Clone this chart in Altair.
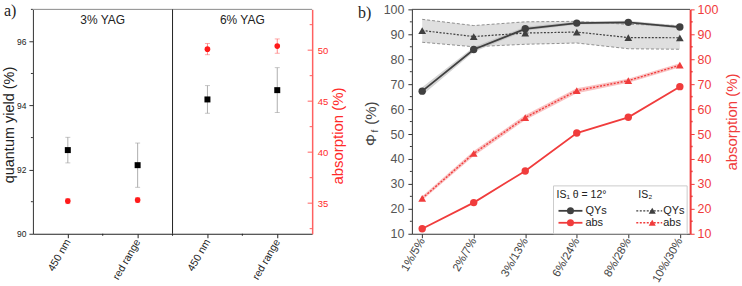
import json
import altair as alt
import pandas as pd

# ---------------- panel a: YAG samples ----------------
a_pos = [0.5, 1.5, 2.5, 3.5]
a_names = ["450 nm", "red range", "450 nm", "red range"]
a_qy = [92.61, 92.14, 94.19, 94.48]
a_qy_err = [0.40, 0.69, 0.43, 0.70]
a_abs = [35.2, 35.3, 50.1, 50.4]
a_abs_err = [0.25, 0.25, 0.55, 0.70]
a_groups = ["3% YAG", "6% YAG"]
a_group_pos = [1, 3]
a_divider = [2]
a_minor_x = [1, 2, 3]
a_qy_ticks = [90, 92, 94, 96]
a_qy_minor = [91, 93, 95, 97]
a_abs_ticks = [35, 40, 45, 50]
a_abs_minor = [32.5, 37.5, 42.5, 47.5, 52.5]

# ---------------- panel b: concentration series ----------------
b_labels = ["1%/5%", "2%/7%", "3%/13%", "6%/24%", "8%/28%", "10%/30%"]
b_idx = list(range(len(b_labels)))
is1_qy = [67.2, 83.9, 92.2, 94.5, 94.8, 92.9]
is1_abs = [12.0, 22.5, 35.2, 50.4, 56.7, 69.0]
is2_qy = [91.5, 89.1, 90.5, 90.9, 88.7, 88.6]
is2_abs = [24.2, 42.2, 56.6, 67.4, 71.4, 77.6]
is2_qy_lo = [86.8, 85.0, 86.0, 86.5, 84.2, 84.0]
is2_qy_hi = [96.0, 93.5, 95.0, 95.2, 94.0, 93.5]
is1_qy_spread = [1.6, 1.0, 0.8, 0.6, 0.6, 0.6]
is2_abs_spread = [0.8, 1.0, 1.0, 1.0, 0.8, 0.8]
b_ticks = list(range(10, 101, 10))
b_minor = list(range(15, 100, 10))

AW, AH = 280, 225
BW, BH = 279, 225
FONT = "Liberation Sans"
SERIF = "Liberation Serif"
RED_A = "#ff1a1a"
RED_B = "#f03c3c"
DARK = "#404040"

one = pd.DataFrame({"k": [0]})


def text_at(txt, x, y, size, color="#222222", angle=0, align="center",
            baseline="middle", font=FONT):
    return alt.Chart(one).mark_text(
        text=txt, fontSize=size, color=color, angle=angle, align=align,
        baseline=baseline, font=font
    ).encode(x=alt.value(x), y=alt.value(y))


def seg(x1, x2, y1, y2, color, width=1.0, dash=None):
    props = dict(color=color, strokeWidth=width)
    if dash:
        props["strokeDash"] = dash
    return alt.Chart(one).mark_rule(**props).encode(
        x=alt.value(x1), x2=alt.value(x2), y=alt.value(y1), y2=alt.value(y2))


def sym(x, y, shape, color, size):
    return alt.Chart(one).mark_point(
        shape=shape, filled=True, size=size, color=color, opacity=1
    ).encode(x=alt.value(x), y=alt.value(y))


def anchor(x, y):
    # invisible corner box that fixes the overall page extent
    return alt.Chart(one).mark_rect(opacity=0).encode(
        x=alt.value(x), x2=alt.value(x + 1), y=alt.value(y), y2=alt.value(y + 1))


# ======================= panel a =======================
df_a = pd.DataFrame({
    "pos": a_pos, "qy": a_qy, "ab": a_abs,
    "qy_lo": [v - e for v, e in zip(a_qy, a_qy_err)],
    "qy_hi": [v + e for v, e in zip(a_qy, a_qy_err)],
    "ab_lo": [v - e for v, e in zip(a_abs, a_abs_err)],
    "ab_hi": [v + e for v, e in zip(a_abs, a_abs_err)],
})

xa_scale = alt.Scale(domain=[0, 4], nice=False, zero=False)
xa_axis = alt.Axis(
    values=a_pos, labelExpr=json.dumps(a_names) + "[floor(datum.value)]",
    labelAngle=-60, title=None, grid=False, tickSize=4, tickColor="#222222",
    domainColor="#222222", labelColor="#222222", labelFontSize=10.5, labelPadding=2)


def XA(field):
    return alt.X(field, type="quantitative", scale=xa_scale, axis=xa_axis)


yq_scale = alt.Scale(domain=[90, 97], nice=False, zero=False)
yq_axis = alt.Axis(values=a_qy_ticks, title=None, grid=False, tickSize=4,
                   labelFontSize=8.5, labelPadding=3, tickColor="#333333",
                   domainColor="#333333", labelColor="#222222")


def YQ(field):
    return alt.Y(field, type="quantitative", scale=yq_scale, axis=yq_axis)


ya_scale = alt.Scale(domain=[32, 54], nice=False, zero=False)
ya_axis = alt.Axis(orient="right", values=a_abs_ticks, ticks=False, title=None,
                   grid=False, labelFontSize=9.5, labelPadding=5,
                   labelColor="#ff2a2a", domainColor="#ff6060", domainWidth=1.5)


def YA(field):
    return alt.Y(field, type="quantitative", scale=ya_scale, axis=ya_axis)


base_a = alt.Chart(df_a)
left_a = alt.layer(
    base_a.mark_rule(color="#9a9a9a", strokeWidth=0.8).encode(
        x=XA("pos"), y=YQ("qy_lo"), y2="qy_hi"),
    base_a.mark_tick(orient="horizontal", size=5, thickness=0.8, color="#9a9a9a").encode(
        x=XA("pos"), y=YQ("qy_lo")),
    base_a.mark_tick(orient="horizontal", size=5, thickness=0.8, color="#9a9a9a").encode(
        x=XA("pos"), y=YQ("qy_hi")),
    base_a.mark_square(size=36, color="black", opacity=1).encode(
        x=XA("pos"), y=YQ("qy")),
    alt.Chart(pd.DataFrame({"v": a_qy_minor})).mark_rule(color="#333333").encode(
        y=YQ("v"), x=alt.value(-2), x2=alt.value(0)),
)

right_a = alt.layer(
    base_a.mark_rule(color="#ff6a6a", strokeWidth=0.8).encode(
        x=XA("pos"), y=YA("ab_lo"), y2="ab_hi"),
    base_a.mark_tick(orient="horizontal", size=5, thickness=0.8, color="#ff6a6a").encode(
        x=XA("pos"), y=YA("ab_lo")),
    base_a.mark_tick(orient="horizontal", size=5, thickness=0.8, color="#ff6a6a").encode(
        x=XA("pos"), y=YA("ab_hi")),
    base_a.mark_circle(size=32, color=RED_A, opacity=1).encode(
        x=XA("pos"), y=YA("ab")),
    alt.Chart(pd.DataFrame({"v": a_abs_ticks})).mark_rule(color="#ff6060").encode(
        y=YA("v"), x=alt.value(AW - 4.5), x2=alt.value(AW)),
    alt.Chart(pd.DataFrame({"v": a_abs_minor})).mark_rule(color="#ff6060").encode(
        y=YA("v"), x=alt.value(AW - 2.5), x2=alt.value(AW)),
)

deco_a = alt.layer(
    seg(0, AW, 0, 0, "#8a8a8a"),
    alt.Chart(pd.DataFrame({"pos": a_divider})).mark_rule(color="#222222").encode(
        x=XA("pos"), y=alt.value(0), y2=alt.value(AH)),
    alt.Chart(pd.DataFrame({"pos": a_minor_x})).mark_rule(color="#222222").encode(
        x=XA("pos"), y=alt.value(AH), y2=alt.value(AH + 2)),
    alt.Chart(pd.DataFrame({"g": a_groups, "pos": a_group_pos})).mark_text(
        fontSize=12, font=FONT, color="#222222").encode(
        x=XA("pos"), y=alt.value(10.5), text="g:N"),
    text_at("quantum yield (%)", -23, 116, 14.5, angle=270),
    text_at("absorption (%)", 306, 127, 15, color="#ff2a2a", angle=270),
    text_at("a)", -29, 7, 16, align="left", baseline="alphabetic", font=SERIF),
    anchor(-32, -8),
)

panel_a = alt.layer(left_a, right_a, deco_a).resolve_scale(y="independent").properties(
    width=AW, height=AH)

# ======================= panel b =======================
df_b = pd.DataFrame({
    "i": b_idx,
    "q1": is1_qy, "a1": is1_abs, "q2": is2_qy, "a2": is2_abs,
    "q2_lo": is2_qy_lo, "q2_hi": is2_qy_hi,
    "q1_lo": [v - s for v, s in zip(is1_qy, is1_qy_spread)],
    "q1_hi": [v + s for v, s in zip(is1_qy, is1_qy_spread)],
    "a2_lo": [v - s for v, s in zip(is2_abs, is2_abs_spread)],
    "a2_hi": [v + s for v, s in zip(is2_abs, is2_abs_spread)],
})

xb_scale = alt.Scale(domain=[-0.2, 5.2], nice=False, zero=False)
xb_axis = alt.Axis(
    values=b_idx, labelExpr=json.dumps(b_labels) + "[datum.value]",
    labelAngle=-60, title=None, grid=False, tickSize=4, tickColor="#333333",
    domainColor="#333333", labelColor="#444444", labelFontSize=11.5, labelPadding=1)


def XB(field):
    return alt.X(field, type="quantitative", scale=xb_scale, axis=xb_axis)


yb_scale = alt.Scale(domain=[10, 100], nice=False, zero=False)
yb_axis = alt.Axis(values=b_ticks, title=None, grid=False, tickSize=4,
                   labelFontSize=12.5, labelPadding=4, tickColor="#333333",
                   domainColor="#333333", labelColor="#555555")


def YB(field):
    return alt.Y(field, type="quantitative", scale=yb_scale, axis=yb_axis)


yr_scale = alt.Scale(domain=[10, 100], nice=False, zero=False)
yr_axis = alt.Axis(orient="right", values=b_ticks, title=None, grid=False,
                   tickSize=4, labelFontSize=12.5, labelPadding=3,
                   tickColor=RED_B, domainColor=RED_B, domainWidth=2,
                   labelColor=RED_B)


def YR(field):
    return alt.Y(field, type="quantitative", scale=yr_scale, axis=yr_axis)


base_b = alt.Chart(df_b)
left_b = alt.layer(
    base_b.mark_area(color="#d9d9d9", opacity=0.85).encode(
        x=XB("i"), y=YB("q2_lo"), y2="q2_hi"),
    base_b.mark_line(color="#777777", strokeWidth=0.8, strokeDash=[3, 2]).encode(
        x=XB("i"), y=YB("q2_lo")),
    base_b.mark_line(color="#777777", strokeWidth=0.8, strokeDash=[3, 2]).encode(
        x=XB("i"), y=YB("q2_hi")),
    base_b.mark_area(color="#b8b8b8", opacity=0.6).encode(
        x=XB("i"), y=YB("q1_lo"), y2="q1_hi"),
    base_b.mark_line(color=DARK, strokeWidth=1.2, strokeDash=[2, 1.5]).encode(
        x=XB("i"), y=YB("q2")),
    base_b.mark_line(color=DARK, strokeWidth=1.8).encode(
        x=XB("i"), y=YB("q1")),
    base_b.mark_point(shape="triangle-up", filled=True, size=60, color=DARK, opacity=1).encode(
        x=XB("i"), y=YB("q2")),
    base_b.mark_point(shape="circle", filled=True, size=55, color=DARK, opacity=1).encode(
        x=XB("i"), y=YB("q1")),
    alt.Chart(pd.DataFrame({"v": b_minor})).mark_rule(color="#333333").encode(
        y=YB("v"), x=alt.value(-2), x2=alt.value(0)),
)

right_b = alt.layer(
    base_b.mark_area(color="#f6a8a8", opacity=0.7).encode(
        x=XB("i"), y=YR("a2_lo"), y2="a2_hi"),
    base_b.mark_line(color=RED_B, strokeWidth=1.4, strokeDash=[2, 1.5]).encode(
        x=XB("i"), y=YR("a2")),
    base_b.mark_line(color=RED_B, strokeWidth=1.8).encode(
        x=XB("i"), y=YR("a1")),
    base_b.mark_point(shape="triangle-up", filled=True, size=60, color=RED_B, opacity=1).encode(
        x=XB("i"), y=YR("a2")),
    base_b.mark_point(shape="circle", filled=True, size=55, color=RED_B, opacity=1).encode(
        x=XB("i"), y=YR("a1")),
    alt.Chart(pd.DataFrame({"v": b_minor})).mark_rule(color=RED_B, strokeWidth=1.5).encode(
        y=YR("v"), x=alt.value(BW), x2=alt.value(BW + 2.5)),
)

# legend box drawn inside the plot
LX0, LX1, LY0 = 142, 276, 177
R1, R2 = 202, 214
legend_b = alt.layer(
    alt.Chart(one).mark_rect(fill="white", stroke="#cccccc", strokeWidth=1).encode(
        x=alt.value(LX0), x2=alt.value(LX1), y=alt.value(LY0), y2=alt.value(BH)),
    text_at("IS\u2081 \u03b8 = 12\u00b0", 145, 186, 10.5, align="left"),
    text_at("IS\u2082", 227, 186, 10.5, align="left"),
    seg(147, 171, R1, R1, DARK, 1.8),
    sym(159, R1, "circle", DARK, 50),
    text_at("QYs", 174, R1, 11, align="left"),
    seg(147, 171, R2, R2, RED_B, 1.8),
    sym(159, R2, "circle", RED_B, 50),
    text_at("abs", 174, R2, 11, align="left"),
    seg(225, 251, R1, R1, DARK, 1.2, [2, 1.5]),
    sym(241, R1, "triangle-up", DARK, 50),
    text_at("QYs", 252, R1, 11, align="left"),
    seg(225, 251, R2, R2, RED_B, 1.4, [2, 1.5]),
    sym(241, R2, "triangle-up", RED_B, 50),
    text_at("abs", 252, R2, 11, align="left"),
)

deco_b = alt.layer(
    seg(0, BW, 0, 0, "#444444"),
    text_at("absorption (%)", 321, 113, 15, color=RED_B, angle=270),
    text_at("\u03a6", -41, 131, 15, color="#444444", angle=270),
    text_at("f", -37, 122, 10, color="#444444", angle=270),
    text_at("(%)", -41, 104, 15, color="#444444", angle=270),
    text_at("b)", -54, 9, 16, align="left", baseline="alphabetic", font=SERIF),
    anchor(329, 277),
)

panel_b = alt.layer(left_b, right_b, legend_b, deco_b).resolve_scale(
    y="independent").properties(width=BW, height=BH)

chart = alt.hconcat(panel_a, panel_b, spacing=100, bounds="flush").properties(
    padding=0
).configure_view(stroke="transparent").configure_axis(
    labelFont=FONT, titleFont=FONT
).configure_text(font=FONT)

chart.save("out.html", embed_options={"renderer": "svg", "actions": False})
